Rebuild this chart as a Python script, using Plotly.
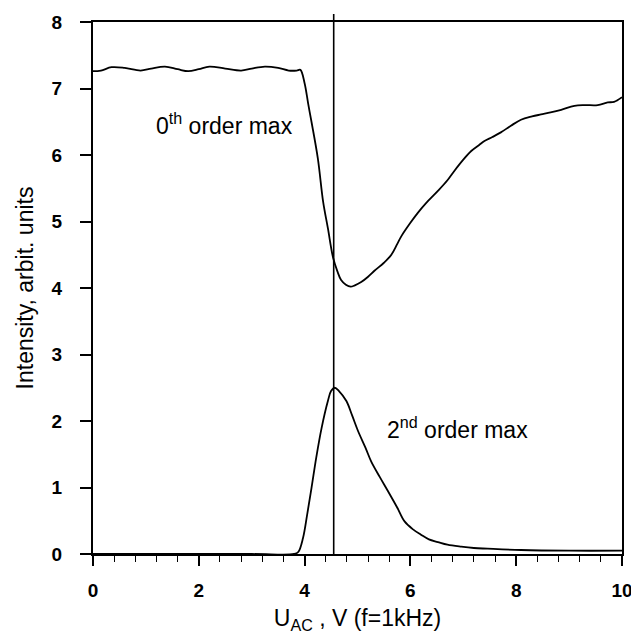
import plotly.graph_objects as go

# 0th order maximum
x_zero = [0, 0.15, 0.35, 0.6, 0.9, 1.1, 1.36, 1.6, 1.8, 2.0, 2.2, 2.5, 2.8, 3.0, 3.25, 3.5,
          3.7, 3.85, 3.92, 4.0, 4.07, 4.13, 4.25, 4.35, 4.44, 4.54, 4.62, 4.69, 4.78, 4.87,
          4.95, 5.07, 5.2, 5.32, 5.5, 5.64, 5.75, 5.83, 6.0, 6.14, 6.3, 6.52, 6.7, 6.83, 7.0,
          7.15, 7.3, 7.4, 7.55, 7.71, 7.9, 8.09, 8.3, 8.47, 8.65, 8.85, 9.1, 9.3, 9.54, 9.73,
          9.85, 10.0]
y_zero = [7.26, 7.27, 7.32, 7.31, 7.27, 7.30, 7.33, 7.29, 7.26, 7.29, 7.33, 7.30, 7.27, 7.30,
          7.33, 7.31, 7.27, 7.27, 7.28, 7.08, 6.76, 6.50, 5.95, 5.30, 4.90, 4.45, 4.25, 4.12,
          4.05, 4.02, 4.04, 4.09, 4.17, 4.26, 4.38, 4.50, 4.66, 4.78, 4.98, 5.13, 5.28, 5.46,
          5.62, 5.76, 5.93, 6.06, 6.15, 6.21, 6.27, 6.34, 6.44, 6.53, 6.58, 6.61, 6.64, 6.68,
          6.74, 6.75, 6.75, 6.79, 6.80, 6.87]

# 2nd order maximum
x_second = [0, 3.0, 3.8, 3.88, 3.97, 4.05, 4.13, 4.22, 4.32, 4.44, 4.5, 4.57, 4.65, 4.79, 4.9,
            5.01, 5.15, 5.26, 5.42, 5.58, 5.75, 5.89, 6.05, 6.2, 6.35, 6.52, 6.7, 6.96, 7.2,
            7.46, 8.09, 9.0, 10.0]
y_second = [0, 0, 0.0, 0.03, 0.24, 0.6, 0.99, 1.45, 1.89, 2.3, 2.45, 2.5, 2.45, 2.3, 2.08,
            1.85, 1.6, 1.39, 1.16, 0.94, 0.7, 0.49, 0.37, 0.29, 0.22, 0.18, 0.14, 0.11, 0.09,
            0.08, 0.06, 0.05, 0.05]

vline_x = 4.55
x_ticks = [0, 2, 4, 6, 8, 10]
y_ticks = [0, 1, 2, 3, 4, 5, 6, 7, 8]

FONT = "Liberation Sans, Arial, Helvetica, sans-serif"

fig = go.Figure()
fig.add_trace(go.Scatter(x=x_zero, y=y_zero, mode="lines", line=dict(color="black", width=1.8),
                         line_shape="spline", showlegend=False, cliponaxis=False))
fig.add_trace(go.Scatter(x=x_second, y=y_second, mode="lines", line=dict(color="black", width=1.8),
                         line_shape="spline", showlegend=False, cliponaxis=False))

fig.add_shape(type="line", xref="x", yref="paper", x0=vline_x, x1=vline_x, y0=0, y1=1.015,
              line=dict(color="black", width=1.6))

fig.add_annotation(x=1.16, y=6.47, xref="x", yref="y", text="0<sup>th</sup> order max",
                   showarrow=False, xanchor="left", yanchor="middle",
                   font=dict(family=FONT, size=23, color="black"))
fig.add_annotation(x=5.52, y=1.9, xref="x", yref="y", text="2<sup>nd</sup> order max",
                   showarrow=False, xanchor="left", yanchor="middle",
                   font=dict(family=FONT, size=23, color="black"))

fig.update_layout(
    width=639, height=631,
    margin=dict(l=84.5, r=24.5, t=14, b=85),
    paper_bgcolor="white", plot_bgcolor="white",
    font=dict(family=FONT, color="black"),
    xaxis=dict(
        range=[0, 10], tickvals=x_ticks, ticktext=[str(v) for v in x_ticks],
        ticks="outside", ticklen=10, tickwidth=1.5, tickcolor="black",
        minor=dict(dtick=0.4, ticks="outside", ticklen=6, tickwidth=1.2, tickcolor="black"),
        showline=True, linecolor="black", linewidth=2, mirror=True,
        showgrid=False, zeroline=False, automargin=False, ticklabelstandoff=8,
        tickfont=dict(family=FONT, size=19, color="black", weight="bold"),
        title=dict(text="U<sub>AC</sub> , V (f=1kHz)", font=dict(family=FONT, size=23, color="black"),
                   standoff=10),
    ),
    yaxis=dict(
        range=[0, 8], tickvals=y_ticks, ticktext=[str(v) for v in y_ticks],
        ticks="outside", ticklen=11, tickwidth=1.5, tickcolor="black",
        showline=True, linecolor="black", linewidth=2, mirror=True,
        showgrid=False, zeroline=False, automargin=False, ticklabelstandoff=14,
        tickfont=dict(family=FONT, size=19, color="black", weight="bold"),
        title=dict(text="Intensity, arbit. units", font=dict(family=FONT, size=23, color="black"),
                   standoff=12),
    ),
)

fig.write_html("out.html")
